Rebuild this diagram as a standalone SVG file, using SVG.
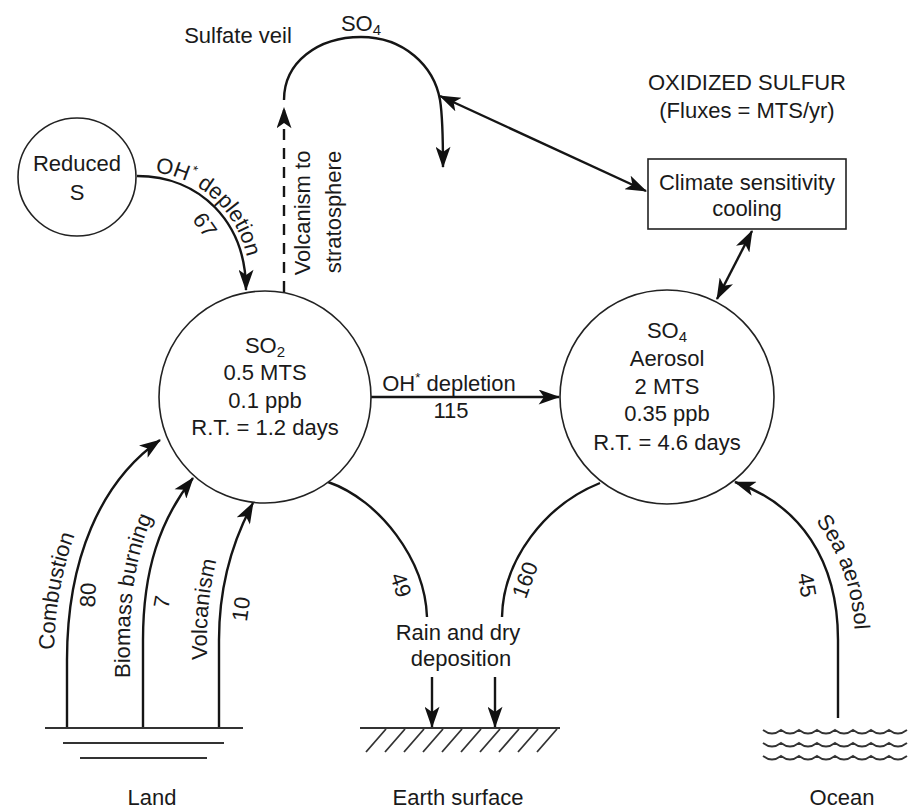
<svg xmlns="http://www.w3.org/2000/svg" width="911" height="812" viewBox="0 0 911 812">
<style>
text{font-family:"Liberation Sans",Arial,sans-serif;font-size:22px;fill:#1a1a1a}
.c{text-anchor:middle}
.m{text-anchor:middle;dominant-baseline:central}
.node{fill:#fff;stroke:#222;stroke-width:1.6}
.con{fill:none;stroke:#151515;stroke-width:2.4}
.arr{marker-end:url(#ah)}
.dbl{marker-start:url(#ah);marker-end:url(#ah)}
.thin{fill:none;stroke:#333;stroke-width:1.8}
</style>
<defs>
<marker id="ah" viewBox="0 0 20 14" refX="19" refY="7" markerWidth="22" markerHeight="15" markerUnits="userSpaceOnUse" orient="auto-start-reverse"><path d="M0,0 L20,7 L0,14 L5,7 z" fill="#111"/></marker>
<path id="tpOH" d="M137,171 C203,171 251,218 251,292"/>
<path id="tpComb" d="M54,727 L54,660 C54,558 90,470 153,428"/>
<path id="tpBio" d="M130,727 L130,640 C130,565 148,510 183,466"/>
<path id="tpVol" d="M207,727 L207,640 C207,580 222,530 243,492"/>
<path id="tpSea" d="M741,466 C806,489 854,555 855,640 L855,718"/>
</defs>
<rect width="911" height="812" fill="#fff"/>

<g id="connectors">
<path class="con arr" d="M137,176 C200,176 246,222 246,290"/>
<path class="con arr" d="M284,292 L284,108" stroke-dasharray="11 8"/>
<path class="con arr" d="M284,100 C284,62 318,37 361,37 C404,37 434,66 440,100 C443,118 443,140 443,167"/>
<path class="con dbl" d="M440,96 L646,191"/>
<path class="con dbl" d="M752,231 L717,299"/>
<path class="con arr" d="M371,397 L559,397"/>
<path class="con arr" d="M67,727 L67,660 C67,560 100,482 160,440"/>
<path class="con arr" d="M143,727 L143,640 C143,570 160,520 193,478"/>
<path class="con arr" d="M219,727 L219,640 C219,585 233,540 253,503"/>
<path class="con" d="M328,482 C380,500 425,560 427,617"/>
<path class="con" d="M600,483 C545,505 503,560 502,617"/>
<path class="con arr" d="M432,677 L432,727"/>
<path class="con arr" d="M495,677 L495,727"/>
<path class="con arr" d="M838,718 L838,640 C838,560 800,505 735,482"/>
</g>

<g id="labels">
<text><textPath href="#tpOH" startOffset="18">OH<tspan font-size="13" baseline-shift="9">*</tspan> depletion</textPath></text>
<text class="m" transform="translate(205,225) rotate(55)">67</text>
<text class="m" transform="translate(302,213) rotate(-90)">Volcanism to</text>
<text class="m" transform="translate(333,212) rotate(-90)">stratosphere</text>
<text class="c" x="449" y="391">OH<tspan font-size="13" baseline-shift="9">*</tspan> depletion</text>
<text class="c" x="451" y="418">115</text>
<text><textPath href="#tpComb" startOffset="77">Combustion</textPath></text>
<text class="m" transform="translate(88,595) rotate(-88)">80</text>
<text><textPath href="#tpBio" startOffset="49">Biomass burning</textPath></text>
<text class="m" transform="translate(162,602) rotate(-80)">7</text>
<text><textPath href="#tpVol" startOffset="67">Volcanism</textPath></text>
<text class="m" transform="translate(241,609) rotate(-82)">10</text>
<text class="m" transform="translate(401,585) rotate(72)">49</text>
<text class="m" transform="translate(525,580) rotate(-70)">160</text>
<text><textPath href="#tpSea" startOffset="94">Sea aerosol</textPath></text>
<text class="m" transform="translate(807,585) rotate(80)">45</text>
<text class="c" x="458" y="640">Rain and dry</text>
<text class="c" x="461" y="666">deposition</text>
</g>

<g id="veil">
<text class="c" x="238" y="43">Sulfate veil</text>
<text class="c" x="361" y="31">SO<tspan font-size="15" dy="4">4</tspan></text>
</g>

<g id="title">
<text class="c" x="747" y="90">OXIDIZED SULFUR</text>
<text class="c" x="747" y="118">(Fluxes = MTS/yr)</text>
</g>

<g id="reducedS">
<circle class="node" cx="77" cy="177" r="59"/>
<text class="c" x="77" y="171">Reduced</text>
<text class="c" x="77" y="200">S</text>
</g>

<g id="so2">
<circle class="node" cx="265" cy="397" r="106"/>
<text class="c" x="265" y="353">SO<tspan font-size="15" dy="4">2</tspan></text>
<text class="c" x="265" y="380">0.5 MTS</text>
<text class="c" x="265" y="408">0.1 ppb</text>
<text class="c" x="265" y="435">R.T. = 1.2 days</text>
</g>

<g id="so4">
<circle class="node" cx="667" cy="397" r="107"/>
<text class="c" x="667" y="338">SO<tspan font-size="15" dy="4">4</tspan></text>
<text class="c" x="667" y="366">Aerosol</text>
<text class="c" x="667" y="394">2 MTS</text>
<text class="c" x="667" y="421">0.35 ppb</text>
<text class="c" x="667" y="450">R.T. = 4.6 days</text>
</g>

<g id="climate">
<rect class="node" x="648" y="159" width="198" height="70"/>
<text class="c" x="747" y="190">Climate sensitivity</text>
<text class="c" x="747" y="216">cooling</text>
</g>

<g id="land">
<line class="thin" x1="45" y1="728" x2="243" y2="728"/>
<line class="thin" x1="63" y1="743" x2="224" y2="743"/>
<line class="thin" x1="80" y1="758" x2="207" y2="758"/>
<text class="c" x="152" y="805">Land</text>
</g>

<g id="earth">
<line class="thin" x1="360" y1="728" x2="560" y2="728"/>
<path class="thin" stroke-width="1.4" d="M386,729 l-20,23 M405,729 l-20,23 M424,729 l-20,23 M443,729 l-20,23 M462,729 l-20,23 M481,729 l-20,23 M500,729 l-20,23 M519,729 l-20,23 M538,729 l-20,23 M557,729 l-20,23"/>
<text class="c" x="458" y="805">Earth surface</text>
</g>

<g id="ocean">
<path class="thin" stroke-width="1.4" d="M763,730 q9,7 18,0 q9,7 18,0 q9,7 18,0 q9,7 18,0 q9,7 18,0 q9,7 18,0 q9,7 18,0 q9,7 18,0 M763,743 q9,7 18,0 q9,7 18,0 q9,7 18,0 q9,7 18,0 q9,7 18,0 q9,7 18,0 q9,7 18,0 q9,7 18,0 M763,756 q9,7 18,0 q9,7 18,0 q9,7 18,0 q9,7 18,0 q9,7 18,0 q9,7 18,0 q9,7 18,0 q9,7 18,0"/>
<text class="c" x="842" y="805">Ocean</text>
</g>
</svg>
